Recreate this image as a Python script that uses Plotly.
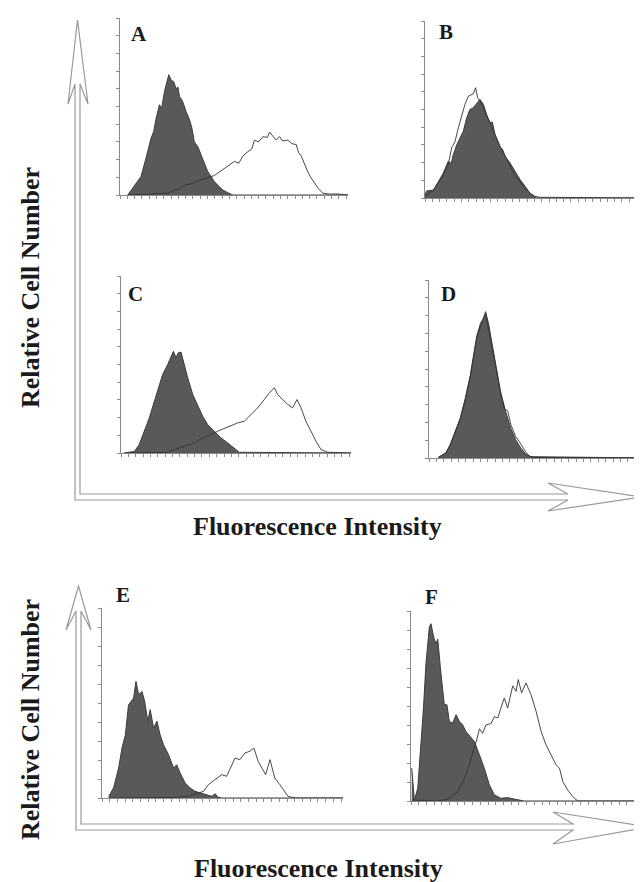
import plotly.graph_objects as go

# ---------------- data (channel 0-100 along each axis, relative count 0-100) -------------
A_fill_x = [3.4, 9.2, 11.4, 13.6, 14.8, 15.8, 17.3, 18.3, 19.5, 20.6, 21.4, 22.4, 23.6, 24.6, 25.4, 26.1, 27.5, 29.0, 30.5, 31.5, 32.6, 34.1, 35.6, 37.0, 38.5, 40.0, 41.4, 43.6, 45.1, 47.3, 49.5, 100]
A_fill_y = [0, 10.4, 20.8, 32, 36, 43, 51, 49, 58.5, 64, 68, 65, 64, 60, 61, 55.7, 52.8, 47, 42.5, 38, 30, 27.4, 22.6, 18, 13.2, 10.4, 7.5, 4.7, 2.8, 1.3, 0, 0]
A_open_x = [3.4, 9.2, 16.5, 20.9, 23.9, 26.0, 28.3, 29.7, 31.9, 34.1, 36.3, 38.5, 41.4, 43.6, 45.8, 48.0, 50.2, 52.1, 53.9, 56.1, 57.8, 59.0, 60.8, 62.7, 64.6, 65.6, 67.1, 68.5, 70.0, 71.4, 73.6, 75.4, 77.3, 78.3, 79.5, 81.0, 82.4, 83.9, 85.4, 87.1, 89.0, 92.0, 95.6, 100]
A_open_y = [0, 0.5, 0.8, 1, 2.8, 3.5, 5.5, 6, 6.5, 8, 9, 10, 11, 13, 15, 16.5, 19, 18, 22, 24.5, 26, 31, 30, 33, 32.5, 35.5, 33, 31, 33, 30.5, 31, 29, 28.5, 24, 22, 17, 13, 9.5, 6.5, 3.5, 1, 0.5, 0.6, 0]

B_fill_x = [0, 0.7, 3.7, 5.8, 8.0, 10.2, 11.5, 12.4, 13.9, 15.4, 16.8, 18.3, 19.7, 21.2, 22.7, 24.1, 25.6, 27.0, 28.5, 29.5, 30.7, 32.9, 34.0, 35.1, 37.3, 39.5, 41.7, 43.9, 46.0, 49.0, 100]
B_fill_y = [1.5, 4, 4.5, 9.4, 14, 20.8, 19.5, 24.5, 30, 34, 37.7, 45.3, 50, 51, 53.8, 55.7, 53, 47.2, 42.5, 43, 35.8, 28.3, 27.5, 23.6, 19.8, 15, 10.4, 6.6, 2.8, 0, 0]
B_open_x = [0, 3.7, 7.3, 10.2, 11.7, 13.2, 14.6, 16.1, 17.5, 19.0, 21.2, 22.2, 23.1, 24.6, 27.5, 30.4, 33.3, 36.3, 39.2, 42.1, 45.0, 48.0, 50.4, 100]
B_open_y = [1, 4.5, 11.3, 18.9, 28.3, 32, 39.6, 47, 52.8, 57.5, 58.9, 62.3, 56.6, 53.8, 45.3, 36.8, 28.3, 20.8, 13.2, 8.5, 3.8, 1, 0.4, 0]

C_fill_x = [1.4, 5.8, 7.9, 10.1, 12.3, 14.5, 15.9, 18.1, 20.3, 21.7, 22.8, 23.9, 24.9, 26.1, 27.2, 29.0, 31.2, 33.3, 35.5, 37.7, 40.6, 43.5, 46.4, 49.3, 51.4, 100]
C_fill_y = [0, 0.9, 4.7, 12.3, 19.8, 29.2, 34.9, 44.3, 50, 54.7, 57.5, 53.8, 56.6, 57, 50.9, 42.5, 33, 27.4, 20.8, 16, 12.3, 8.5, 5.7, 2.8, 0.4, 0]
C_open_x = [1.4, 20.3, 23.2, 27.5, 31.9, 34.8, 37.7, 42.0, 46.4, 50.7, 53.6, 56.5, 59.4, 62.3, 64.5, 66.7, 68.1, 70.3, 72.5, 74.6, 76.5, 78.3, 80.4, 82.6, 84.8, 87.0, 89.9, 100]
C_open_y = [0, 0.4, 1.9, 3.8, 5.7, 8.1, 9.4, 12.3, 14.5, 17, 17.9, 21.7, 25.5, 30.2, 34, 36.8, 33, 30.2, 27.4, 25.5, 30.2, 25.5, 17.9, 12.3, 6.6, 1.9, 0.4, 0]

D_fill_x = [4.1, 7.3, 9.2, 11.4, 13.6, 15.8, 17.5, 18.0, 19.4, 20.9, 22.4, 23.8, 24.6, 26.0, 27.5, 29.2, 31.1, 33.3, 35.5, 37.7, 39.9, 42.1, 44.3, 100]
D_fill_y = [0.4, 2.8, 7.5, 15, 22.4, 33.6, 44, 46.7, 57.9, 69.2, 75.7, 78.5, 82.2, 74.8, 63.6, 50.5, 37.4, 26.2, 16.8, 10.3, 5.6, 2.2, 0.7, 0]
D_open_x = [4.1, 7.3, 9.2, 11.4, 12.5, 13.6, 15.8, 18.0, 19.4, 20.9, 22.0, 22.4, 23.8, 24.6, 26.0, 27.5, 29.2, 31.1, 32.7, 33.3, 34.2, 35.5, 37.7, 39.2, 40.6, 42.0, 43.7, 46.0, 100]
D_open_y = [0.4, 2.8, 7, 14, 18, 22, 33, 46, 57, 68.5, 72, 74, 79.5, 81, 72, 62, 50, 36, 28, 27.1, 26.5, 19, 12, 9.3, 6.5, 3.5, 1, 0.4, 0]

E_fill_x = [2.8, 4.8, 6.9, 8.3, 9.7, 11.0, 12.1, 13.1, 14.1, 15.2, 16.6, 17.7, 19.0, 20.0, 21.4, 22.8, 24.1, 25.5, 27.6, 29.7, 31.0, 32.4, 34.5, 36.6, 38.6, 40.7, 42.8, 45.5, 47.0, 48.0, 49.7, 100]
E_fill_y = [0.9, 5.3, 15.8, 26.3, 33.3, 49, 50.9, 52.6, 61.4, 54.4, 56.1, 50.9, 40.4, 46.5, 36.8, 40.4, 33.3, 28.1, 22.8, 15.8, 17.5, 13.2, 7.9, 5.3, 3.5, 2.6, 1.8, 0.9, 2.2, 0.5, 0, 0]
E_open_x = [2.8, 28.9, 35.9, 42.1, 44.1, 46.9, 49.7, 51.7, 53.8, 55.2, 57.2, 59.3, 61.4, 63.0, 64.8, 66.2, 67.9, 69.7, 71.7, 73.8, 75.9, 77.2, 80.0, 100]
E_open_y = [0, 0.3, 0.9, 3.5, 7, 9.6, 12.3, 11.4, 16.7, 21, 20.2, 23.7, 24.6, 26.3, 19.3, 15.8, 12.3, 20.2, 10.5, 7, 3.5, 0.9, 0, 0]

F_fill_x = [0.3, 1.4, 2.8, 4.1, 5.2, 6.2, 7.6, 8.3, 9.4, 10.4, 11.1, 12.2, 13.8, 14.9, 15.9, 17.3, 18.7, 20.1, 21.4, 22.8, 24.9, 26.3, 28.4, 30.4, 32.5, 34.6, 37.3, 40.1, 42.9, 47.0, 100]
F_fill_y = [17.3, 0.5, 6.7, 27.8, 49.3, 72.2, 91.5, 93.3, 86.3, 82.7, 85.2, 70.1, 50.7, 50.7, 41.9, 41, 45.4, 41.9, 40.1, 36.6, 33.1, 31.3, 24.3, 17.3, 8.5, 3.2, 1.4, 1.8, 1, 0, 0]
F_open_x = [0.3, 11.1, 15.2, 19.4, 22.1, 24.2, 25.6, 27.0, 28.4, 29.7, 31.1, 33.2, 34.6, 36.0, 37.3, 38.7, 40.1, 42.2, 43.6, 44.5, 45.9, 47.7, 49.8, 51.9, 54.0, 56.0, 58.1, 60.2, 61.6, 63.0, 65.0, 67.1, 69.2, 100]
F_open_y = [0.5, 0, 0.9, 4.9, 11.8, 18.7, 25.7, 31, 38, 35.6, 40, 40.8, 44.4, 43.7, 48.9, 54.2, 48.9, 60.6, 57.7, 63.9, 56.9, 62.1, 56, 47.2, 36.6, 29.6, 24.3, 19, 17.3, 10.2, 5.8, 2.3, 0, 0]

panel_labels = ["A", "B", "C", "D", "E", "F"]
x_title = "Fluorescence Intensity"
y_title = "Relative Cell Number"

# ---------------- layout geometry (pixels) ----------------
W, H = 642, 882
# left, right, top, bottom (px) and nominal full axis width (px)
geom = {
    "A": (112, 340, 10, 187, 228),
    "B": (417, 642, 13, 190, 228),
    "C": (113, 343, 268, 445, 230),
    "D": (421, 642, 272, 450, 230),
    "E": (94, 335, 600, 790, 241),
    "F": (403, 642, 603, 793, 241),
}
label_pos = {"A": (131, 26), "B": (438, 24), "C": (127, 286), "D": (440, 286), "E": (115, 587), "F": (423, 589)}

data = {
    "A": (A_fill_x, A_fill_y, A_open_x, A_open_y),
    "B": (B_fill_x, B_fill_y, B_open_x, B_open_y),
    "C": (C_fill_x, C_fill_y, C_open_x, C_open_y),
    "D": (D_fill_x, D_fill_y, D_open_x, D_open_y),
    "E": (E_fill_x, E_fill_y, E_open_x, E_open_y),
    "F": (F_fill_x, F_fill_y, F_open_x, F_open_y),
}

def px(x, y):
    return x / W, 1 - y / H

fig = go.Figure()
layout_axes = {}
ann = []
AXC = "#8a8a8a"
SERIF = "Liberation Serif"
for i, name in enumerate(panel_labels):
    l, r, t, b, full = geom[name]
    n = i + 1
    xa = "x" if n == 1 else f"x{n}"
    ya = "y" if n == 1 else f"y{n}"
    fx, fy, ox, oy = data[name]
    fig.add_trace(go.Scatter(x=fx, y=fy, xaxis=xa, yaxis=ya, mode="lines", fill="tozeroy",
                             fillcolor="#595959", line=dict(color="#3c3c3c", width=1),
                             showlegend=False, hoverinfo="skip"))
    fig.add_trace(go.Scatter(x=ox, y=oy, xaxis=xa, yaxis=ya, mode="lines",
                             line=dict(color="#333333", width=0.9),
                             showlegend=False, hoverinfo="skip"))
    xmax = (r - l) / full * 100
    kx = "xaxis" if n == 1 else f"xaxis{n}"
    ky = "yaxis" if n == 1 else f"yaxis{n}"
    layout_axes[kx] = dict(domain=[l / W, r / W], range=[0, xmax], anchor=ya,
                           showgrid=False, zeroline=False, showline=True, linecolor=AXC, linewidth=1,
                           ticks="outside", ticklen=3, tickcolor=AXC, tickwidth=1, dtick=3.2,
                           tick0=0, showticklabels=False, fixedrange=True)
    layout_axes[ky] = dict(domain=[1 - b / H, 1 - t / H], range=[0, 100], anchor=xa,
                           showgrid=False, zeroline=False, showline=True, linecolor=AXC, linewidth=1,
                           ticks="outside", ticklen=3, tickcolor=AXC, tickwidth=1, dtick=10,
                           showticklabels=False, fixedrange=True)
    lx, ly = px(*label_pos[name])
    ann.append(dict(x=lx, y=ly, xref="paper", yref="paper", text=f"<b>{name}</b>", showarrow=False,
                    xanchor="center", yanchor="middle",
                    font=dict(family=SERIF, size=21, color="#1a1a1a")))

# axis titles
for (cx, cy) in [(309, 518), (310, 860)]:
    ax_, ay_ = px(cx, cy)
    ann.append(dict(x=ax_, y=ay_, xref="paper", yref="paper", text=f"<b>{x_title}</b>", showarrow=False,
                    xanchor="center", yanchor="middle",
                    font=dict(family=SERIF, size=26, color="#1a1a1a")))
for (cx, cy) in [(22, 280), (22, 712)]:
    ax_, ay_ = px(cx, cy)
    ann.append(dict(x=ax_, y=ay_, xref="paper", yref="paper", text=f"<b>{y_title}</b>", showarrow=False,
                    xanchor="center", yanchor="middle", textangle=-90,
                    font=dict(family=SERIF, size=26, color="#1a1a1a")))

# big open double-line arrows
def arrow_path(xi, xo, yi, yo, shaft_top, tip_y, wing_y, wing_l, wing_r, hshaft_end, hwing_x, tip_x, hwing_t, hwing_b):
    pts = [(xi, shaft_top), (xi, yi), (hshaft_end, yi), (hwing_x, hwing_t), (tip_x, (yi + yo) / 2),
           (hwing_x, hwing_b), (hshaft_end, yo), (xo, yo), (xo, shaft_top), (wing_l, wing_y),
           ((xi + xo) / 2, tip_y), (wing_r, wing_y)]
    s = ""
    for k, (x, y) in enumerate(pts):
        X, Y = px(x, y)
        s += ("M" if k == 0 else "L") + f"{X:.5f},{Y:.5f} "
    return s + "Z"

shapes = [
    dict(type="path", xref="paper", yref="paper", line=dict(color="#9a9a9a", width=1.2),
         path=arrow_path(72, 67, 486, 492, 76, 12, 96, 60, 80, 560, 540, 633, 475, 503)),
    dict(type="path", xref="paper", yref="paper", line=dict(color="#9a9a9a", width=1.2),
         path=arrow_path(73, 68, 816, 822, 603, 578, 622, 58, 83, 565, 545, 641, 804, 836)),
]

fig.update_layout(width=W, height=H, margin=dict(l=0, r=0, t=0, b=0),
                  paper_bgcolor="white", plot_bgcolor="rgba(0,0,0,0)",
                  annotations=ann, shapes=shapes, **layout_axes)
fig.write_html("out.html")
